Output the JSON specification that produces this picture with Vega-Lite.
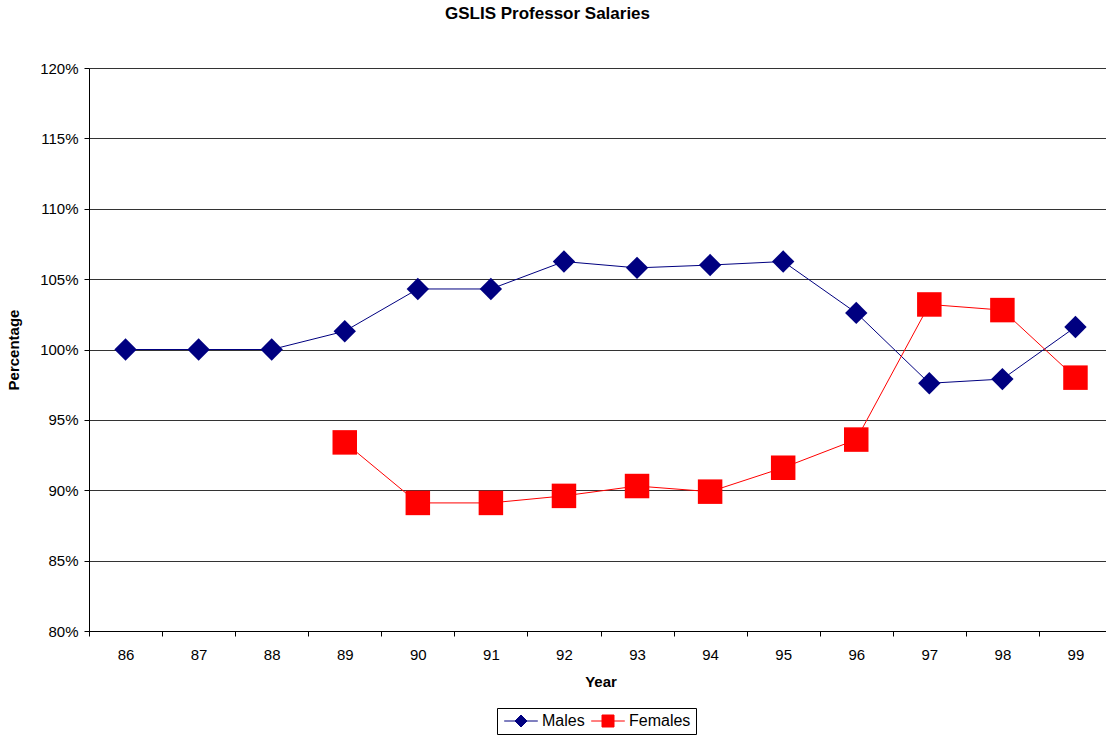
{
  "$schema": "https://vega.github.io/schema/vega-lite/v6.json",
  "width": 1017,
  "height": 563,
  "autosize": {"type": "none"},
  "padding": {"left": 89, "top": 68, "right": 0, "bottom": 104},
  "background": "white",
  "config": {
    "font": "Liberation Sans",
    "view": {"stroke": null}
  },
  "title": {
    "text": "GSLIS Professor Salaries",
    "fontSize": 17,
    "fontWeight": "bold",
    "font": "Liberation Sans",
    "color": "black",
    "anchor": "middle",
    "dx": -50,
    "offset": 38
  },
  "data": {
    "values": [
      {"year": "86", "series": "Males", "value": 1.000},
      {"year": "87", "series": "Males", "value": 1.000},
      {"year": "88", "series": "Males", "value": 1.000},
      {"year": "89", "series": "Males", "value": 1.013},
      {"year": "90", "series": "Males", "value": 1.043},
      {"year": "91", "series": "Males", "value": 1.043},
      {"year": "92", "series": "Males", "value": 1.0625},
      {"year": "93", "series": "Males", "value": 1.058},
      {"year": "94", "series": "Males", "value": 1.060},
      {"year": "95", "series": "Males", "value": 1.0625},
      {"year": "96", "series": "Males", "value": 1.026},
      {"year": "97", "series": "Males", "value": 0.976},
      {"year": "98", "series": "Males", "value": 0.979},
      {"year": "99", "series": "Males", "value": 1.016},
      {"year": "89", "series": "Females", "value": 0.934},
      {"year": "90", "series": "Females", "value": 0.891},
      {"year": "91", "series": "Females", "value": 0.891},
      {"year": "92", "series": "Females", "value": 0.896},
      {"year": "93", "series": "Females", "value": 0.903},
      {"year": "94", "series": "Females", "value": 0.899},
      {"year": "95", "series": "Females", "value": 0.916},
      {"year": "96", "series": "Females", "value": 0.936},
      {"year": "97", "series": "Females", "value": 1.032},
      {"year": "98", "series": "Females", "value": 1.028},
      {"year": "99", "series": "Females", "value": 0.980}
    ]
  },
  "encoding": {
    "x": {
      "field": "year",
      "type": "ordinal",
      "scale": {"type": "band", "range": [0, 1023], "paddingInner": 0, "paddingOuter": 0},
      "axis": {
        "title": "Year",
        "titleFont": "Liberation Sans",
        "titleFontSize": 15,
        "titleFontWeight": "bold",
        "titleColor": "black",
        "titlePadding": 12,
        "labelAngle": 0,
        "labelFontSize": 15,
        "labelColor": "black",
        "labelPadding": 11,
        "tickBand": "extent",
        "tickSize": 5,
        "tickColor": "black",
        "domainColor": "black",
        "grid": false
      }
    },
    "y": {
      "field": "value",
      "type": "quantitative",
      "scale": {"domain": [0.8, 1.2], "zero": false, "nice": false},
      "axis": {
        "title": "Percentage",
        "titleFont": "Liberation Sans",
        "titleFontSize": 15,
        "titleFontWeight": "bold",
        "titleColor": "black",
        "titlePadding": 18,
        "format": ".0%",
        "values": [0.8, 0.85, 0.9, 0.95, 1.0, 1.05, 1.1, 1.15, 1.2],
        "labelFontSize": 15,
        "labelColor": "black",
        "labelPadding": 6,
        "tickSize": 5,
        "tickColor": "black",
        "domainColor": "black",
        "grid": true,
        "gridColor": "#333333",
        "gridOpacity": 1,
        "gridWidth": 1
      }
    },
    "color": {
      "field": "series",
      "type": "nominal",
      "scale": {"domain": ["Males", "Females"], "range": ["#000080", "#ff0000"]},
      "legend": {
        "title": null,
        "orient": "none",
        "legendX": 408,
        "legendY": 640,
        "direction": "horizontal",
        "labelFontSize": 16,
        "labelColor": "black",
        "labelFont": "Liberation Sans",
        "labelOffset": 13,
        "symbolOffset": 11,
        "columnPadding": 4,
        "padding": 5,
        "strokeColor": "black",
        "symbolSize": 144,
        "symbolStrokeWidth": 1,
        "encode": {
          "symbols": {
            "update": {
              "shape": {"signal": "datum.value === 'Males' ? 'M-2.8,0H2.8M0,-1L1,0L0,1L-1,0Z' : 'M-2.8,0H2.8M-1,-1H1V1H-1Z'"},
              "fill": {"signal": "datum.value === 'Males' ? '#000080' : '#ff0000'"},
              "stroke": {"signal": "datum.value === 'Males' ? '#000080' : '#ff0000'"},
              "strokeWidth": {"value": 1},
              "opacity": {"value": 1},
              "fillOpacity": {"value": 1}
            }
          }
        }
      }
    }
  },
  "layer": [
    {
      "mark": {"type": "line", "strokeWidth": 1}
    },
    {
      "transform": [{"filter": "datum.series === 'Males'"}],
      "mark": {"type": "point", "filled": true, "opacity": 1, "shape": "diamond", "size": 500}
    },
    {
      "transform": [{"filter": "datum.series === 'Females'"}],
      "mark": {"type": "point", "filled": true, "opacity": 1, "shape": "square", "size": 600}
    }
  ]
}
